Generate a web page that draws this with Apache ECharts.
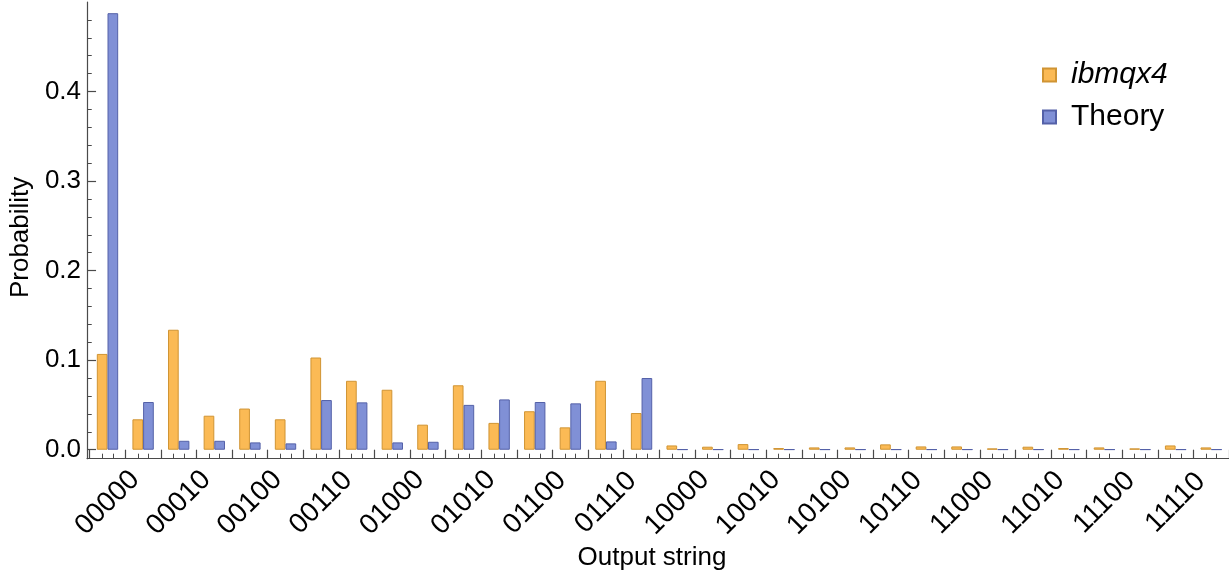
<!DOCTYPE html>
<html>
<head>
<meta charset="utf-8">
<script src="https://cdn.jsdelivr.net/npm/echarts@6/dist/echarts.min.js"></script>
<style>
  html, body { margin: 0; padding: 0; background: #fff; }
  #chart { width: 1229px; height: 577px; }
</style>
</head>
<body>
<div id="chart"></div>
<script>
// Measured output distribution of a 5-qubit circuit vs. the ideal prediction
const categories = [
  '00000','00001','00010','00011','00100','00101','00110','00111',
  '01000','01001','01010','01011','01100','01101','01110','01111',
  '10000','10001','10010','10011','10100','10101','10110','10111',
  '11000','11001','11010','11011','11100','11101','11110','11111'
];
const ibmqx4 = [
  0.107, 0.034, 0.134, 0.038, 0.046, 0.034, 0.103, 0.077,
  0.067, 0.028, 0.072, 0.030, 0.043, 0.025, 0.077, 0.041,
  0.0048, 0.0034, 0.0063, 0.0019, 0.0026, 0.0026, 0.0060, 0.0037,
  0.0037, 0.0015, 0.0034, 0.0019, 0.0026, 0.0015, 0.0048, 0.0026
];
const theory = [
  0.4875, 0.0533, 0.0100, 0.0100, 0.0082, 0.0071, 0.0555, 0.0529,
  0.0082, 0.0089, 0.0501, 0.0562, 0.0533, 0.0518, 0.0093, 0.0801,
  0.0004, 0.0004, 0.0004, 0.0004, 0.0004, 0.0004, 0.0004, 0.0004,
  0.0004, 0.0004, 0.0004, 0.0004, 0.0004, 0.0004, 0.0004, 0.0004
];
const yMajorTicks = [0, 0.1, 0.2, 0.3, 0.4];
const yMinorTicks = [0.02, 0.04, 0.06, 0.08, 0.12, 0.14, 0.16, 0.18, 0.22, 0.24, 0.26, 0.28,
                     0.32, 0.34, 0.36, 0.38, 0.42, 0.44, 0.46, 0.48];

const FONT = '"Liberation Sans", Arial, Helvetica, sans-serif';
const AXIS = '#4a4a4a';
const Y_MIN = -0.01, Y_MAX = 0.5;
const BAR_FRAC = 0.3; // each bar takes 30% of a category band

// small ticks under each bar's centre, in band units
const barCentreTicks = [];
categories.forEach((c, i) => {
  barCentreTicks.push(i + 0.5 - BAR_FRAC / 2, i + 0.5 + BAR_FRAC / 2);
});

const chart = echarts.init(document.getElementById('chart'), null, { renderer: 'canvas' });

const option = {
  animation: false,
  backgroundColor: '#ffffff',
  textStyle: { fontFamily: FONT },
  grid: [
    { left: 85, top: 2, width: 1146, bottom: 118.3 },
    { left: 89.7, top: 2, width: 1141.4, bottom: 118.3 }
  ],
  legend: {
    orient: 'vertical',
    left: 1037,
    top: 55,
    itemWidth: 13,
    itemHeight: 13,
    itemGap: 12,
    icon: 'rect',
    textStyle: { fontFamily: FONT, fontSize: 30, color: '#000', padding: [0, 0, 0, 10] },
    data: [
      { name: 'ibmqx4', textStyle: { fontStyle: 'italic' } },
      { name: 'Theory' }
    ]
  },
  xAxis: [
    {
      gridIndex: 0, type: 'value', min: 0, max: 1, position: 'bottom',
      axisLine: { show: true, onZero: false, lineStyle: { color: AXIS, width: 1.2 } },
      axisTick: { show: false }, axisLabel: { show: false }, splitLine: { show: false },
      name: 'Output string', nameLocation: 'middle', nameGap: 86,
      nameTextStyle: { fontFamily: FONT, fontSize: 26, color: '#000', padding: [0, 12, 0, 0] }
    },
    {
      gridIndex: 1, type: 'category', data: categories, position: 'bottom',
      axisLine: { show: false, onZero: false },
      axisTick: { show: true, inside: true, length: 9, interval: 0, alignWithLabel: false,
                  lineStyle: { color: AXIS, width: 1.2 } },
      axisLabel: { interval: 1, rotate: 45, align: 'center', verticalAlign: 'middle',
                   margin: 44, fontFamily: FONT, fontSize: 28, color: '#000' },
      splitLine: { show: false }
    },
    {
      gridIndex: 1, type: 'value', min: 0, max: categories.length, position: 'bottom',
      axisLine: { show: false, onZero: false },
      axisTick: { show: true, inside: true, length: 5, customValues: barCentreTicks,
                  lineStyle: { color: AXIS, width: 1 } },
      axisLabel: { show: false }, splitLine: { show: false }
    }
  ],
  yAxis: [
    {
      gridIndex: 0, type: 'value', min: Y_MIN, max: Y_MAX, position: 'left',
      axisLine: { show: true, onZero: false, lineStyle: { color: AXIS, width: 1.2 } },
      axisTick: { show: true, inside: true, length: 9, customValues: yMajorTicks,
                  lineStyle: { color: AXIS, width: 1.2 } },
      axisLabel: { customValues: yMajorTicks, margin: 6, fontFamily: FONT, fontSize: 26,
                   color: '#000', formatter: v => v.toFixed(1) },
      splitLine: { show: false },
      name: 'Probability', nameLocation: 'middle', nameGap: 52, nameRotate: 90,
      nameTextStyle: { fontFamily: FONT, fontSize: 26, color: '#000', padding: [0, 14, 0, 0] }
    },
    {
      gridIndex: 0, type: 'value', min: Y_MIN, max: Y_MAX, position: 'left',
      axisLine: { show: false, onZero: false },
      axisTick: { show: true, inside: true, length: 4.7, customValues: yMinorTicks,
                  lineStyle: { color: AXIS, width: 1 } },
      axisLabel: { show: false }, splitLine: { show: false }
    },
    {
      gridIndex: 1, type: 'value', min: Y_MIN, max: Y_MAX, show: false,
      splitLine: { show: false }
    }
  ],
  series: [
    {
      name: 'ibmqx4', type: 'bar', xAxisIndex: 1, yAxisIndex: 2,
      data: ibmqx4, barWidth: (BAR_FRAC * 100) + '%', barGap: '0%',
      itemStyle: { color: '#fbba55', borderColor: '#d09433', borderWidth: 1 }
    },
    {
      name: 'Theory', type: 'bar', xAxisIndex: 1, yAxisIndex: 2,
      data: theory, barWidth: (BAR_FRAC * 100) + '%', barGap: '0%',
      itemStyle: { color: '#8090d6', borderColor: '#5461a8', borderWidth: 1 }
    }
  ]
};

chart.setOption(option);
</script>
</body>
</html>
